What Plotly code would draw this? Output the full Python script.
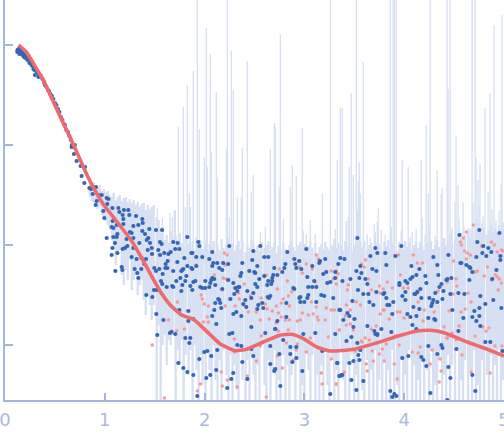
import plotly.graph_objects as go

# Model curve: q, log10(I)
fit_q = [0.137,0.217,0.284,0.384,0.484,0.584,0.691,0.835,0.985,1.102,1.27,1.386,1.553,1.653,1.77,1.887,2.02,2.154,2.305,2.42,2.588,2.755,2.872,2.99,3.123,3.257,3.497,3.73,3.965,4.13,4.265,4.399,4.632,4.833,4.983,5.0]
fit_log = [0.0,-0.073,-0.183,-0.35,-0.567,-0.783,-1.007,-1.327,-1.593,-1.743,-1.96,-2.16,-2.46,-2.597,-2.70,-2.743,-2.863,-2.987,-3.057,-3.043,-2.97,-2.903,-2.893,-2.937,-3.02,-3.06,-3.043,-2.977,-2.903,-2.86,-2.853,-2.877,-2.97,-3.043,-3.103,-3.11]

# Measured points with positive intensity
blue_pts = """.123 -.07 .125 -.05 .135 -.04 .14 -.06 .145 -.09 .155 -.05 .16 -.08 .17 -.07 .175 -.1 .185 -.09 .19 -.12 .2 -.1 .205 -.13 .215 -.12 .225 -.15 .235 -.14 .245 -.18 .255 -.17 .265 -.2 .275 -.21 .285 -.24 .295 -.25 .30 -.3 .31 -.26 .33 -.28 .335 -.32 .345 -.31 .36 -.31 .375 -.34 .39 -.37 .40 -.40 .415 -.42 .43 -.45 .44 -.46 .455 -.49 .47 -.51 .485 -.54 .5 -.58 .515 -.60 .53 -.64 .545 -.67 .56 -.72 .575 -.75 .59 -.79 .6 -.80 .615 -.85 .63 -.87 .645 -.91 .66 -.95 .67 -1.0 .68 -1.0 .69 -1.02 .70 -1.0
.668 -1.02 .691 -1.09 .718 -1.16 .758 -1.21 .802 -1.22 .768 -1.31 .795 -1.38 .845 -1.43 .862 -1.44 .912 -1.42 .879 -1.49 .935 -1.50 .969 -1.50 1.019 -1.53 1.036 -1.54 .919 -1.56 .909 -1.60 1.025 -1.59 .985 -1.66 1.076 -1.63 1.136 -1.63 1.192 -1.65 1.236 -1.65 1.146 -1.67 1.179 -1.70 1.246 -1.70 1.313 -1.71 .995 -1.73 1.079 -1.76 1.186 -1.74 1.376 -1.74 1.119 -1.80 1.186 -1.79 1.38 -1.78 1.286 -1.81 1.336 -1.80 1.069 -1.82 1.086 -1.83 1.446 -1.84 1.513 -1.85 1.573 -1.85 1.376 -1.86 1.252 -1.87 1.269 -1.88 1.126 -1.89 1.086 -1.92 1.119 -1.92 1.019 -1.93 1.219 -1.94 1.286 -1.93 1.403 -1.89 1.436 -1.93 1.42 -1.95 1.553 -1.97 1.102 -1.98 1.346 -1.98 1.453 -1.98 1.57 -1.99 1.076 -2.03 1.226 -2.01 1.202 -2.03 1.179 -2.04 1.286 -2.03 1.47 -2.03 1.126 -2.08 1.069 -2.10 1.43 -2.05 1.536 -2.05 1.596 -2.08 1.473 -2.09 1.553 -2.10 1.637 -2.09 1.269 -2.12 1.319 -2.14 1.369 -2.13 1.413 -2.14 1.63 -2.16 1.396 -2.19 1.61 -2.19 1.169 -2.22 1.496 -2.23 1.176 -2.25 1.106 -2.26 1.299 -2.24 1.366 -2.24 1.513 -2.26 1.546 -2.24 1.607 -2.23 1.627 -2.23 1.326 -2.28 1.58 -2.29 1.336 -2.33 1.563 -2.36 1.576 -2.39 1.62 -2.42 1.493 -2.45 1.52 -2.45 1.416 -2.50 1.476 -2.52 1.516 -2.69 1.587 -2.75 1.526 -2.90 1.653 -2.88
1.686 -1.97 1.730 -1.98 1.827 -1.92 1.937 -1.97 1.947 -2.01 1.706 -2.04 1.747 -2.04 1.867 -2.08 1.877 -2.08 1.797 -2.13 1.917 -2.12 1.977 -2.12 2.077 -2.07 2.247 -2.01 2.488 -2.06 2.558 -2.01 2.598 -2.12 2.638 -2.12 2.829 -2.07 3.019 -2.04 3.209 -2.14 3.156 -2.16 3.149 -2.18 2.047 -2.14 2.087 -2.18 2.127 -2.18 2.187 -2.18 2.237 -2.19 2.378 -2.18 2.478 -2.15 2.528 -2.21 2.809 -2.19 2.899 -2.14 2.949 -2.16 2.909 -2.19 2.919 -2.23 2.969 -2.24 3.079 -2.21 1.66 -2.07 1.727 -2.17 1.827 -2.21 1.867 -2.23 1.877 -2.24 1.917 -2.21 1.787 -2.24 1.777 -2.25 1.767 -2.26 1.686 -2.26 2.077 -2.21 2.147 -2.23 2.177 -2.25 2.448 -2.26 2.498 -2.27 2.508 -2.28 2.368 -2.28 2.358 -2.31 2.698 -2.23 2.799 -2.23 2.779 -2.27 2.729 -2.30 2.688 -2.30 2.678 -2.33 2.598 -2.31 2.638 -2.36 2.548 -2.34 2.508 -2.39 2.528 -2.42 2.348 -2.42 2.288 -2.38 2.237 -2.35 2.097 -2.34 2.067 -2.35 2.057 -2.38 2.077 -2.33 2.007 -2.36 1.907 -2.36 1.887 -2.37 1.817 -2.31 1.757 -2.33 1.807 -2.36 1.716 -2.36 1.676 -2.41 1.686 -2.42 1.777 -2.40 1.767 -2.46 1.857 -2.41 1.877 -2.45 1.957 -2.42 1.977 -2.43 2.007 -2.43 2.047 -2.42 2.107 -2.40 2.177 -2.44 2.307 -2.43 2.338 -2.42 2.428 -2.46 2.488 -2.48 2.468 -2.53 2.408 -2.55 2.388 -2.59 2.328 -2.46 2.298 -2.49 2.258 -2.54 2.137 -2.54 2.147 -2.55 2.157 -2.58 2.167 -2.63 2.107 -2.58 2.097 -2.65 2.077 -2.71 2.117 -2.79 2.288 -2.69 2.318 -2.67 2.368 -2.71 2.418 -2.62 2.528 -2.64 2.578 -2.58 2.588 -2.63 2.538 -2.60 2.628 -2.40 2.668 -2.39 2.678 -2.36 2.632 -2.52 2.658 -2.51 2.645 -2.53 2.819 -2.58 2.708 -2.84 2.729 -2.76 2.819 -2.72 2.889 -2.43 2.899 -2.44 3.039 -2.42 3.079 -2.42 3.029 -2.32 3.099 -2.36 3.119 -2.42 3.169 -2.50 3.199 -2.51 3.289 -2.53 3.229 -2.38 3.189 -2.29 3.219 -2.27 3.259 -2.37 3.309 -2.33 3.35 -2.65 2.949 -2.53 2.959 -2.52 2.999 -2.57 2.959 -2.57 3.039 -2.50 3.029 -2.53 3.119 -2.57 2.468 -2.82 2.608 -2.88
2.328 -3.00 2.368 -3.01 2.247 -2.89 2.278 -2.88 1.807 -2.93 1.857 -2.93 1.847 -2.98 1.997 -3.07 2.027 -3.06 2.067 -3.11 2.127 -3.05 1.947 -3.14 1.737 -3.18 1.787 -3.23 1.827 -3.27 1.887 -3.30 2.017 -3.33 2.057 -3.30 2.117 -3.25 2.267 -3.34 2.287 -3.28 2.227 -3.43 2.428 -3.34 1.927 -3.51 2.378 -3.17 2.468 -3.04 2.488 -3.11 2.658 -3.01 2.658 -3.19 2.708 -3.24 2.698 -3.26 2.749 -3.09 2.759 -3.41 2.788 -2.95 2.859 -3.02 2.859 -3.09 2.919 -3.02 2.879 -3.17 2.919 -3.13 2.979 -3.26 3.179 -3.06 3.109 -2.88 2.989 -2.89 3.329 -3.18 3.349 -3.31 3.259 -3.49 2.708 -2.84 1.666 -2.87 1.706 -2.89 1.837 -2.76 1.837 -2.66 1.747 -2.65 1.887 -2.74
3.531 -1.93 3.972 -2.01 3.711 -2.03 3.731 -2.08 3.811 -2.08 3.661 -2.11 3.911 -2.11 3.360 -2.13 3.401 -2.14 3.340 -2.19 3.561 -2.21 3.821 -2.20 4.072 -2.21 4.292 -2.12 4.443 -2.10 4.332 -2.20 4.563 -2.18 4.553 -1.90 4.753 -1.85 4.733 -1.97 4.793 -2.01 4.843 -2.03 4.783 -2.08 4.823 -2.11 4.873 -2.07 4.723 -2.12 4.954 -1.88 4.964 -2.11 4.964 -2.15 4.573 -2.18 4.623 -2.20 4.653 -2.22 4.663 -2.23 4.683 -2.27 4.924 -2.25 3.310 -2.27 3.521 -2.26 3.571 -2.28 3.681 -2.24 3.721 -2.26 3.551 -2.33 3.611 -2.34 3.461 -2.34 3.381 -2.36 3.631 -2.39 3.537 -2.45 3.952 -2.38 3.952 -2.40 4.012 -2.36 4.032 -2.38 4.062 -2.34 4.082 -2.32 4.122 -2.30 4.152 -2.24 4.212 -2.31 4.342 -2.30 4.222 -2.38 4.433 -2.34 4.473 -2.33 4.423 -2.35 4.373 -2.39 4.353 -2.42 4.393 -2.46 4.463 -2.49 4.543 -2.48 4.603 -2.49 4.653 -2.35 4.883 -2.34 4.763 -2.51 4.893 -2.55 4.813 -2.59 4.974 -2.63 4.753 -2.63 4.703 -2.66 4.683 -2.72 4.753 -2.71 4.593 -2.73 4.723 -2.76 4.763 -2.81 4.483 -2.65 4.332 -2.57 4.252 -2.53 4.292 -2.55 4.282 -2.58 4.272 -2.61 4.383 -2.54 4.312 -2.48 4.172 -2.53 4.112 -2.49 4.102 -2.49 4.162 -2.44 4.132 -2.47 4.012 -2.47 3.982 -2.51 4.012 -2.55 4.092 -2.62 4.152 -2.64 4.032 -2.69 4.062 -2.72 4.122 -2.71 4.242 -2.73 4.302 -2.74 4.312 -2.75 3.881 -2.69 3.891 -2.57 3.851 -2.60 3.831 -2.60 3.691 -2.60 3.651 -2.57 3.481 -2.56 3.591 -2.49 3.641 -2.49 3.721 -2.47 3.791 -2.49 3.801 -2.48 3.821 -2.53 3.36 -2.65 3.451 -2.71 3.431 -2.68 3.391 -2.75 3.501 -2.74 3.491 -2.82 3.631 -2.81 3.701 -2.86 3.731 -2.90 3.771 -2.84 3.871 -2.87 4.082 -2.80 4.122 -2.84 3.31 -2.89 3.471 -2.92 3.421 -2.96 3.531 -2.98 3.711 -2.89 3.731 -2.89
3.541 -3.10 3.551 -3.15 3.491 -3.16 3.451 -3.18 3.330 -3.18 3.561 -3.05 3.471 -3.35 3.591 -3.36 3.371 -3.30 3.381 -3.30 3.36 -3.31 3.521 -3.45 3.981 -3.13 4.042 -3.11 4.172 -3.12 4.192 -3.15 4.222 -3.21 4.332 -3.09 4.242 -3.01 4.372 -3.00 4.383 -3.03 4.443 -3.22 4.463 -3.33 4.523 -3.04 4.543 -2.86 4.813 -2.97 4.863 -2.97 4.984 -3.06 4.683 -3.30 4.713 -3.46 3.861 -3.46 3.901 -3.49 3.881 -3.52 3.921 -3.51 4.262 -3.48 4.432 -3.55""".split()
blue_q = [float(v) for v in blue_pts[0::2]]
blue_log = [float(v) for v in blue_pts[1::2]]

# Measured points plotted by magnitude (paler markers)
pink_pts = """1.476 -3.0 1.597 -3.53 1.637 -2.75 1.914 -2.20
2.197 -2.08 2.227 -2.10 2.097 -2.30 2.187 -2.33 2.214 -2.34 2.207 -2.20 2.398 -2.39 2.177 -2.45 2.338 -2.48 1.967 -2.50 1.977 -2.54 1.997 -2.59 2.037 -2.61 2.207 -2.61 2.307 -2.61 2.388 -2.60 2.348 -2.54 2.458 -2.51 2.568 -2.53 2.548 -2.59 2.608 -2.59 2.628 -2.64 2.438 -2.67 2.518 -2.67 2.718 -2.61 2.768 -2.58 2.788 -2.54 2.839 -2.51 2.872 -2.47 2.849 -2.61 2.739 -2.68 2.678 -2.66 2.768 -2.72 2.809 -2.75 2.849 -2.75 2.648 -2.74 2.558 -2.75 2.929 -2.76 2.959 -2.75 3.039 -2.70 3.089 -2.69 2.979 -2.68 3.069 -2.57 3.119 -2.62 3.219 -2.63 3.269 -2.65 3.299 -2.65 3.209 -2.75 3.139 -2.75 3.129 -2.72 2.618 -2.30 2.729 -2.44 2.829 -2.36 2.749 -2.24 2.939 -2.16 2.949 -2.22 2.979 -2.28 3.019 -2.19 3.079 -2.24 3.119 -2.10 3.139 -2.14 3.099 -2.36 3.109 -2.37 3.079 -2.42 3.269 -2.26 3.319 -2.26 3.289 -2.34 3.339 -2.29 2.027 -2.72 1.987 -2.77 2.037 -2.77 1.797 -2.84 1.676 -2.86 1.727 -2.57 2.718 -2.78
1.72 -2.86 2.298 -2.94 2.298 -3.07 2.167 -3.27 2.227 -3.35 2.177 -3.41 2.327 -3.42 2.428 -3.31 1.957 -3.39 1.927 -3.46 2.618 -3.52 2.779 -3.23 2.518 -3.16 2.729 -3.11 2.889 -3.15 2.919 -3.05 2.929 -2.99 3.019 -3.07 3.059 -2.93 2.568 -2.91 2.558 -3.01 3.169 -3.28 3.179 -3.39 3.319 -3.39 3.269 -3.14 3.239 -2.92 3.349 -2.85 3.309 -2.89 2.819 -2.98 2.839 -2.85 2.739 -2.86
4.693 -1.80 4.623 -1.87 4.593 -1.93 4.563 -1.97 4.573 -2.00 4.603 -2.06 4.633 -2.08 4.663 -2.10 4.623 -2.14 4.493 -2.16 4.092 -2.10 3.942 -2.10 3.611 -2.15 3.571 -2.19 3.601 -2.22 4.132 -2.18 4.182 -2.18 4.713 -2.27 4.733 -2.26 4.773 -2.01 4.833 -2.22 4.873 -1.97 4.903 -2.00 4.933 -2.07 4.974 -2.05 4.984 -2.06 4.913 -2.30 4.933 -2.32 4.953 -2.34 4.873 -2.35 4.803 -2.31 4.974 -2.38 4.943 -2.45 3.962 -2.30 3.831 -2.37 3.751 -2.41 3.791 -2.44 3.881 -2.43 3.761 -2.48 3.671 -2.45 3.441 -2.40 3.320 -2.39 3.431 -2.45 3.641 -2.34 4.433 -2.37 4.520 -2.34 4.527 -2.41 4.49 -2.49 4.64 -2.48 4.34 -2.46 4.13 -2.46 4.04 -2.43 3.99 -2.43 4.14 -2.57 4.2 -2.65 4.30 -2.67 4.45 -2.66 4.57 -2.67 4.61 -2.64 4.67 -2.57 4.0 -2.73 3.93 -2.67 3.96 -2.67 3.79 -2.65 3.80 -2.65 3.76 -2.69 3.85 -2.74 3.52 -2.57 3.56 -2.60 3.42 -2.60 3.46 -2.65 3.35 -2.64 3.41 -2.71 3.51 -2.74 3.46 -2.79 3.42 -2.80 3.35 -2.85 3.49 -2.85 3.72 -2.81 3.67 -2.84 3.61 -2.93 3.57 -2.96 3.82 -2.99 3.91 -2.91 4.19 -2.76 4.40 -2.82 4.55 -2.81 4.48 -2.88 4.43 -2.93 4.79 -2.82 4.85 -2.83 4.82 -2.86 4.71 -2.91
3.95 -3.00 3.68 -3.06 3.75 -3.09 3.80 -3.16 3.69 -3.16 3.62 -3.19 3.63 -3.26 3.40 -3.27 3.32 -3.39 3.90 -3.19 3.93 -3.34 4.08 -3.07 4.14 -3.08 4.16 -3.02 4.28 -3.05 4.36 -3.14 4.26 -3.19 4.37 -3.26 4.35 -3.37 4.58 -3.10 4.67 -3.27 4.86 -3.28 4.91 -3.01 4.98 -3.01 4.43 -2.93 4.52 -2.95 3.65 -2.95 3.58 -2.97 3.51 -3.06 3.78 -3.04""".split()
pink_q = [float(v) for v in pink_pts[0::2]]
pink_log = [float(v) for v in pink_pts[1::2]]

# Uncertainty band: position, upper end, lower end (log10)
band_q = [.85,.87,.89,.91,.93,.95,.97,.99,1.01,1.03,1.05,1.07,1.09,1.11,1.13,1.15,1.17,1.19,1.21,1.23,1.25,1.27,1.29,1.31,1.33,1.35,1.37,1.39,1.41,1.43,1.45,1.47,1.49,
 1.52,1.54,1.56,1.58,1.60,1.62,1.64,1.66,1.68,1.71,1.73,1.75,1.77,1.79,1.81,1.84,1.86,1.88,1.90,1.92,1.94,1.96,1.98,2.01,2.03,2.05,2.07,2.09,2.11,2.13,2.15,2.17,2.19,2.22,2.24,2.26,2.28,2.30,2.32,2.34,2.36,2.38,2.41,2.43,2.45,2.47,2.49,2.51,2.53,2.55,2.57,2.60,2.62,2.64,2.66,2.68,2.70,2.72,2.74,2.76,2.79,2.81,2.83,2.85,2.87,2.89,2.91,2.94,2.96,2.98,3.00,3.02,3.04,3.06,3.08,3.11,3.13,3.15,3.17,3.19,3.21,3.23,3.25,3.28,3.30,3.32,3.34,3.37,3.39,3.41,3.43,3.45,3.48,3.50,3.52,3.54,3.56,3.58,3.60,3.63,3.65,3.67,3.69,3.71,3.73,3.75,3.78,3.80,3.82,3.84,3.86,3.88,3.90,3.93,3.95,3.97,3.99,4.01,4.03,4.05,4.08,4.10,4.12,4.14,4.16,4.18,4.20,4.23,4.25,4.27,4.29,4.31,4.33,4.35,4.38,4.40,4.42,4.44,4.46,4.48,4.51,4.53,4.55,4.57,4.59,4.61,4.64,4.66,4.68,4.70,4.72,4.74,4.76,4.78,4.80,4.83,4.85,4.87,4.89,4.91,4.93,4.95,4.97,4.99]
band_top = [-1.34,-1.38,-1.37,-1.41,-1.42,-1.40,-1.46,-1.44,-1.47,-1.46,-1.50,-1.52,-1.48,-1.55,-1.52,-1.50,-1.56,-1.53,-1.52,-1.57,-1.54,-1.58,-1.55,-1.60,-1.57,-1.62,-1.59,-1.58,-1.65,-1.60,-1.64,-1.62,-1.60,
 -1.72,-1.75,-1.88,-1.82,-1.95,-1.90,-1.98,-1.86,-1.92,-1.90,-1.95,-1.88,-1.98,-2.02,-1.94,-1.99,-2.03,-1.96,-2.05,-1.92,-2.00,-1.95,-2.04,-1.97,-2.06,-1.99,-2.02,-1.96,-2.08,-2.00,-2.05,-1.94,-2.03,-2.00,-1.93,-2.02,-1.98,-2.06,-2.00,-1.96,-2.04,-1.97,-2.07,-1.99,-2.03,-1.95,-1.98,-2.05,-2.01,-2.06,-1.97,-2.03,-2.00,-1.96,-2.06,-2.02,-1.98,-2.08,-2.01,-2.05,-1.98,-2.04,-2.07,-2.00,-1.96,-2.02,-2.06,-2.00,-1.97,-2.04,-1.99,-2.05,-2.01,-1.96,-2.03,-1.98,-2.08,-2.02,-1.99,-2.04,-1.97,-2.02,-2.05,-2.00,-1.94,-2.03,-1.98,-2.00,-2.05,-1.96,-2.02,-1.98,-2.06,-2.00,-1.95,-2.03,-1.97,-2.02,-1.96,-2.05,-2.00,-1.98,-2.04,-1.96,-2.03,-1.99,-2.05,-1.97,-2.01,-1.95,-2.04,-1.98,-2.02,-2.06,-1.97,-2.00,-2.04,-1.96,-2.02,-1.98,-2.05,-2.00,-1.96,-2.03,-1.97,-2.01,-2.05,-1.98,-2.02,-1.96,-2.04,-2.00,-1.95,-2.02,-1.97,-1.93,-2.00,-1.96,-1.90,-1.98,-1.94,-1.92,-1.96,-1.88,-1.93,-1.90,-1.86,-1.92,-1.88,-1.95,-1.86,-1.91,-1.84,-1.88,-1.82,-1.90,-1.85,-1.80,-1.87,-1.83,-1.88,-1.80,-1.84,-1.78,-1.82,-1.86,-1.79]
band_low = [-1.52,-1.56,-1.58,-1.60,-1.64,-1.62,-1.70,-1.72,-1.76,-1.80,-1.85,-1.95,-2.05,-2.20,-2.10,-2.05,-2.30,-2.40,-2.25,-2.35,-2.15,-2.45,-2.35,-2.30,-2.50,-2.40,-2.35,-2.55,-2.70,-2.50,-2.60,-2.75,-2.60,
 -3.60,-2.80,-3.60,-3.00,-2.90,-3.20,-2.95,-3.00,-2.90,-3.60,-3.05,-3.20,-2.95,-3.60,-3.10,-3.30,-3.05,-3.60,-3.00,-3.25,-3.60,-3.10,-3.40,-3.60,-3.05,-3.25,-3.60,-3.00,-3.35,-3.60,-3.15,-3.60,-3.05,-3.30,-3.60,-3.10,-3.60,-3.20,-3.45,-3.60,-3.05,-3.35,-3.60,-3.15,-3.60,-3.10,-3.30,-3.60,-3.20,-3.60,-3.00,-3.40,-3.60,-3.15,-3.60,-3.25,-3.05,-3.60,-3.35,-3.60,-3.10,-3.60,-3.20,-3.60,-3.30,-3.05,-3.60,-3.15,-3.60,-3.40,-3.60,-3.05,-3.25,-3.60,-3.10,-3.60,-3.30,-3.60,-3.20,-3.60,-3.05,-3.40,-3.60,-3.15,-3.60,-3.25,-3.60,-3.05,-3.35,-3.60,-3.20,-3.60,-3.10,-3.60,-3.30,-3.60,-3.05,-3.45,-3.60,-3.15,-3.60,-3.25,-3.60,-3.05,-3.60,-3.35,-3.60,-3.15,-3.60,-3.25,-3.60,-3.05,-3.60,-3.40,-3.60,-3.15,-3.60,-3.30,-3.60,-3.05,-3.60,-3.20,-3.60,-3.35,-3.60,-3.10,-3.60,-3.25,-3.60,-3.05,-3.60,-3.40,-3.60,-3.15,-3.60,-3.30,-3.60,-3.10,-3.60,-3.20,-3.60,-3.05,-3.60,-3.35,-3.60,-3.15,-3.60,-3.25,-3.60,-3.05,-3.60,-3.40,-3.60,-3.15,-3.60,-3.30,-3.60,-3.10,-3.60,-3.20,-3.60,-3.05,-3.60,-3.35,-3.60,-3.15]

# Very large error bars: position and upper end (log10), reaching down into the band
spike_q = [1.527,1.577,1.653,1.677,1.697,1.707,1.737,1.787,1.807,1.827,1.847,1.857,1.887,1.927,1.947,1.997,2.017,2.027,2.057,2.067,2.117,2.127,2.218,2.228,2.248,2.268,2.288,2.328,2.368,2.378,2.428,2.468,2.488,2.559,2.609,2.659,2.699,2.709,2.749,2.759,2.789,2.859,2.879,2.919,2.979,2.989,3.019,3.059,3.109,3.179,
 3.26,3.31,3.33,3.36,3.38,3.42,3.44,3.45,3.47,3.49,3.52,3.53,3.54,3.55,3.56,3.59,3.63,3.66,3.70,3.71,3.73,3.74,3.77,3.81,3.86,3.87,3.89,3.90,3.92,3.97,3.98,4.04,4.06,4.08,4.12,4.17,4.18,4.21,4.22,4.24,4.25,4.26,4.31,4.33,4.37,4.38,4.43,4.44,4.46,4.47,4.48,4.51,4.52,4.54,4.55,4.59,4.60,4.64,4.66,4.68,4.69,4.71,4.72,4.73,4.74,4.75,4.76,4.78,4.79,4.81,4.84,4.86,4.88,4.90,4.92,4.95,4.97,4.98]
spike_top = [-1.63,-1.73,-1.68,-1.72,-1.66,-1.65,-.82,-.62,-1.62,-.40,-1.48,-1.62,-.26,.45,-.84,-1.12,.17,-1.22,-.09,-1.07,-.47,-1.32,-1.04,.45,-1.72,-.06,-.45,-1.52,-1.52,-1.03,-.16,-1.47,-1.30,-1.87,-1.82,-1.04,-.78,-.82,-1.42,.11,-1.74,-1.42,-1.20,-1.31,-.83,-1.86,-1.89,-1.75,-1.89,-1.48,
 .45,-1.84,-1.15,-.63,-.63,-1.76,-1.72,-1.22,-.48,-1.30,.45,-1.65,-1.36,-1.17,-1.48,-.17,-1.89,-1.93,-1.79,-1.87,-1.77,-1.63,-1.85,-1.90,.45,-1.82,.45,.45,.45,-1.86,-1.15,-1.22,-1.92,-1.87,-1.84,-1.15,-1.73,-1.90,-.80,-1.48,-1.79,.45,-1.91,-1.25,-1.49,-1.43,.45,-.44,.45,-1.86,-1.83,-1.57,-.91,-1.40,-1.74,-1.57,-1.82,-1.83,-1.83,.45,-1.58,.45,-1.12,-1.74,-1.35,-1.60,-1.19,-1.78,-1.71,-.63,-1.47,-.48,-1.64,.20,-1.75,-1.66,-1.39,.30]
spike_low = -2.2

x_ticks = [0, 1, 2, 3, 4, 5]
y_ticks = [1, 0.1, 0.01, 0.001]

AXIS = "#a3b7dc"
BAND = "#d6e0f2"
BLUE = "#3565b5"
PINK = "#f59a9c"
RED = "#ef6a6c"

def lin(vals):
    return [10 ** v for v in vals]

fig = go.Figure()
fig.add_trace(go.Scatter(
    x=band_q, y=lin(band_low), mode="markers", marker=dict(size=1, opacity=0),
    error_y=dict(type="data", symmetric=False,
                 array=[10 ** t - 10 ** l for t, l in zip(band_top, band_low)],
                 arrayminus=[0] * len(band_q), color=BAND, thickness=2.3, width=0)))
fig.add_trace(go.Scatter(
    x=spike_q, y=[10 ** spike_low] * len(spike_q), mode="markers", marker=dict(size=1, opacity=0),
    error_y=dict(type="data", symmetric=False,
                 array=[10 ** t - 10 ** spike_low for t in spike_top],
                 arrayminus=[0] * len(spike_q), color=BAND, thickness=1.3, width=0)))
fig.add_trace(go.Scatter(x=pink_q, y=lin(pink_log), mode="markers",
                         marker=dict(size=3.5, color=PINK, line=dict(width=0))))
fig.add_trace(go.Scatter(x=blue_q, y=lin(blue_log), mode="markers",
                         marker=dict(size=4.2, color=BLUE, line=dict(width=0))))
fig.add_trace(go.Scatter(x=fit_q, y=lin(fit_log), mode="lines",
                         line=dict(color=RED, width=3.6, shape="spline", smoothing=0.5)))

fig.update_layout(
    width=504, height=438, showlegend=False,
    margin=dict(l=5, r=0, t=0, b=38, autoexpand=False),
    paper_bgcolor="white", plot_bgcolor="white",
    font=dict(family="DejaVu Sans", size=18, color="#a9bbdf"),
    xaxis=dict(range=[0, 5], tickvals=x_ticks, ticks="inside", ticklen=7, tickwidth=1.5,
               tickcolor=AXIS, showline=True, linecolor=AXIS, linewidth=1.5, showgrid=False,
               zeroline=False, tickfont=dict(family="DejaVu Sans", size=18, color="#a9bbdf"),
               ticklabeloverflow="allow", ticklabelstandoff=3, automargin=False),
    yaxis=dict(type="log", range=[-3.55, 0.45], tickvals=y_ticks, ticks="inside", ticklen=8,
               tickwidth=1.5, tickcolor=AXIS, showline=True, linecolor=AXIS, linewidth=1.5,
               showgrid=False, zeroline=False, showticklabels=False, automargin=False),
)

fig.write_html("out.html", config={"displayModeBar": False},
               post_script="document.body.style.margin='0';document.body.style.overflow='hidden';")
